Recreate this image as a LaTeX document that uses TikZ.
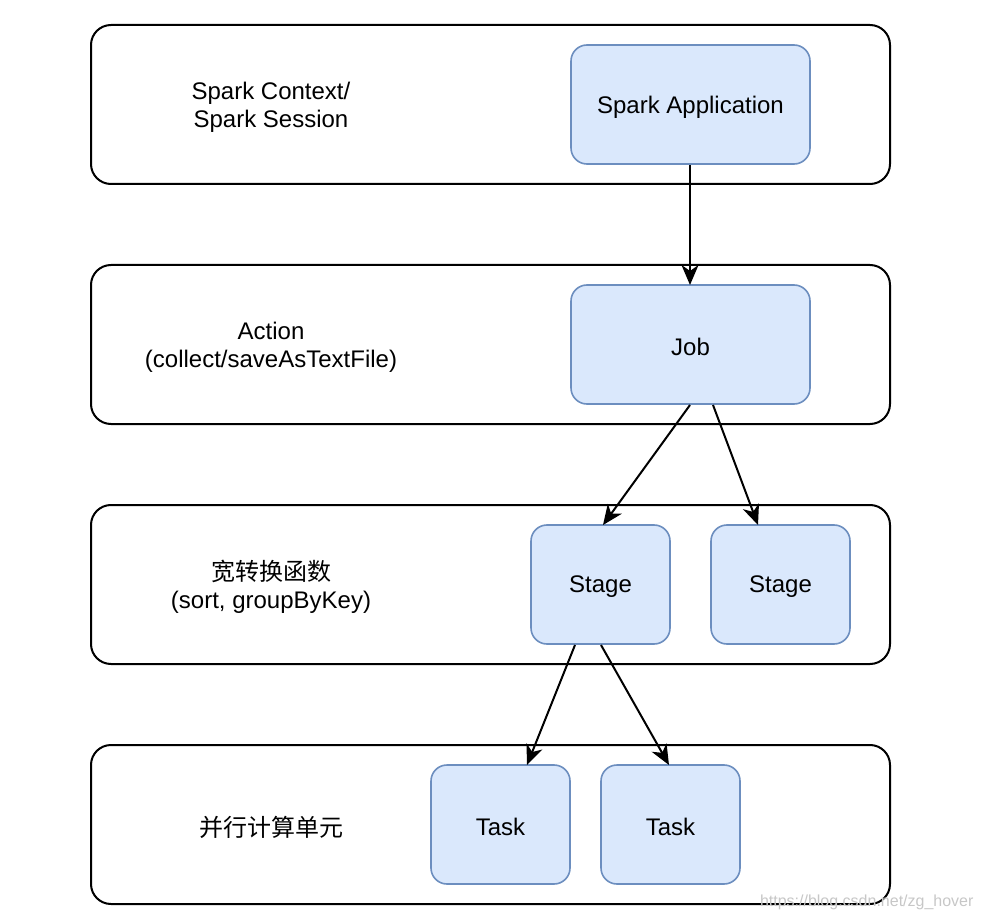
\documentclass[tikz,border=0pt]{standalone}
\usepackage{fontspec}
\setmainfont{Liberation Sans}
\newfontfamily\cjk{Noto Sans CJK SC}
\usetikzlibrary{arrows.meta}
\definecolor{bfill}{HTML}{DAE8FC}
\definecolor{bdraw}{HTML}{6C8EBF}
\tikzset{
  layer/.style={draw=black, line width=2pt, rounded corners=20pt, fill=white},
  blue box/.style={draw=bdraw, fill=bfill, line width=1.6pt, rounded corners=16pt},
  lbl/.style={align=center, font=\fontsize{24}{28}\selectfont},
  arr/.style={line width=2pt, -{Stealth[length=20pt,width=17pt,inset=6pt]}},
}
\begin{document}
\begin{tikzpicture}[x=1pt,y=-1pt]
\useasboundingbox (0,0) rectangle (986,920);
% layers
\draw[layer] (91,25) rectangle (890,184);
\draw[layer] (91,265) rectangle (890,424);
\draw[layer] (91,505) rectangle (890,664);
\draw[layer] (91,745) rectangle (890,904);
% blue boxes
\draw[blue box] (571,45) rectangle (810,164);
\node[lbl] (app) at (690.5,107) {Spark Application};
\draw[blue box] (571,285) rectangle (810,404);
\node[lbl] (job) at (690.5,347) {Job};
\draw[blue box] (531,525) rectangle (670,644);
\node[lbl] (s1) at (600.5,587) {Stage};
\draw[blue box] (711,525) rectangle (850,644);
\node[lbl] (s2) at (780.5,587) {Stage};
\draw[blue box] (431,765) rectangle (570,884);
\node[lbl] (t1) at (500.5,827) {Task};
\draw[blue box] (601,765) rectangle (740,884);
\node[lbl] (t2) at (670.5,827) {Task};
% layer labels
\node[lbl] (l1) at (271,107) {Spark Context/\\Spark Session};
\node[lbl] (l2) at (271,347) {Action\\(collect/saveAsTextFile)};
\node[lbl] (l3) at (271,587) {{\cjk 宽转换函数}\\(sort, groupByKey)};
\node[lbl] (l4) at (271,827) {\cjk 并行计算单元};
% anchor coordinates
\coordinate (appb) at (690,165);
\coordinate (jobt) at (690,285);
\coordinate (jobb1) at (690,405);
\coordinate (jobb2) at (713,405);
\coordinate (s1t) at (603,525);
\coordinate (s2t) at (758,525);
\coordinate (s1b1) at (575,645);
\coordinate (s1b2) at (601,645);
\coordinate (t1t) at (527,765);
\coordinate (t2t) at (669,765);
\draw[arr] (appb) -- (jobt);
\draw[arr] (jobb1) -- (s1t);
\draw[arr] (jobb2) -- (s2t);
\draw[arr] (s1b1) -- (t1t);
\draw[arr] (s1b2) -- (t2t);
% watermark
\node[text=black!22, font=\fontsize{16}{18}\selectfont, anchor=east] (wm) at (977,902) {https://blog.csdn.net/zg\_hover};
\end{tikzpicture}
\end{document}
